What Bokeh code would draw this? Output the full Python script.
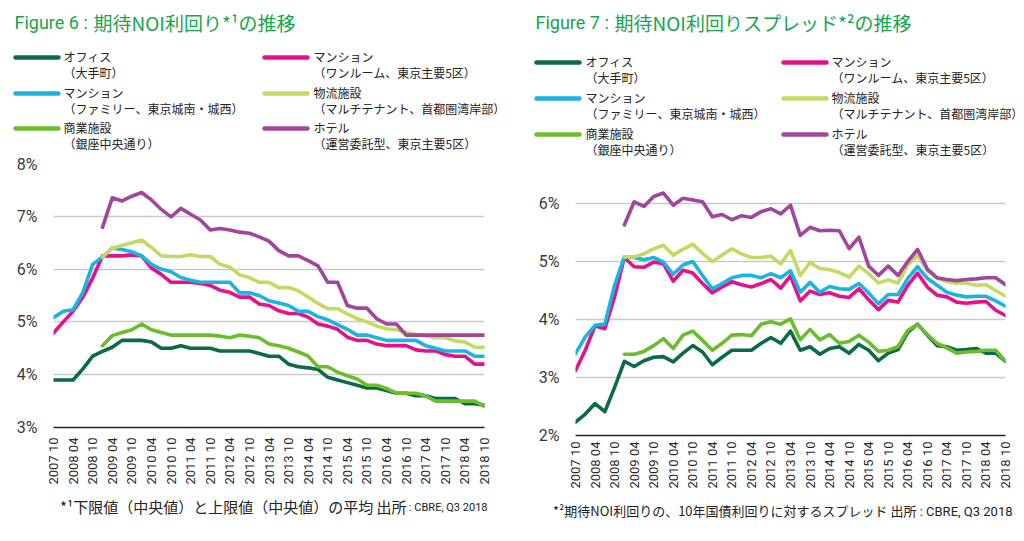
import math
import numpy as np
from bokeh.plotting import figure
from bokeh.models import FixedTicker, Range1d, PrintfTickFormatter
from bokeh.core.properties import value
from bokeh.layouts import row, column
from bokeh.embed import file_html
from bokeh.resources import INLINE

nan = float("nan")

# ---------------- data ----------------
tick_labels = ["2007 10", "2008 04", "2008 10", "2009 04", "2009 10", "2010 04", "2010 10",
               "2011 04", "2011 10", "2012 04", "2012 10", "2013 04", "2013 10", "2014 04",
               "2014 10", "2015 04", "2015 10", "2016 04", "2016 10", "2017 04", "2017 10",
               "2018 04", "2018 10"]
n_quarters = 45  # quarterly survey points, 2007 10 .. 2018 10

series_names = ["オフィス\n（大手町）", "マンション\n（ワンルーム、東京主要5区）",
                "マンション\n（ファミリー、東京城南・城西）", "物流施設\n（マルチテナント、首都圏湾岸部）",
                "商業施設\n（銀座中央通り）", "ホテル\n（運営委託型、東京主要5区）"]

# Figure 6: expected NOI yield (%)
office_yield = [3.90, 3.90, 3.90, 4.11, 4.35, 4.44, 4.52, 4.65, 4.65, 4.65, 4.62, 4.50, 4.50, 4.55, 4.50,
                4.50, 4.50, 4.45, 4.45, 4.45, 4.45, 4.40, 4.35, 4.35, 4.20, 4.15, 4.13, 4.10, 3.95, 3.90,
                3.85, 3.80, 3.75, 3.75, 3.70, 3.65, 3.65, 3.60, 3.60, 3.55, 3.55, 3.55, 3.45, 3.45, 3.42]
oneroom_yield = [4.79, 5.00, 5.20, 5.47, 5.83, 6.25, 6.25, 6.25, 6.27, 6.25, 6.02, 5.90, 5.75, 5.75, 5.75,
                 5.73, 5.69, 5.60, 5.56, 5.47, 5.47, 5.34, 5.31, 5.21, 5.16, 5.16, 5.09, 4.96, 4.92, 4.86,
                 4.71, 4.65, 4.65, 4.58, 4.55, 4.55, 4.55, 4.47, 4.45, 4.45, 4.38, 4.35, 4.35, 4.20, 4.20]
family_yield = [5.08, 5.20, 5.23, 5.56, 6.09, 6.23, 6.40, 6.37, 6.33, 6.25, 6.09, 6.00, 5.95, 5.84, 5.79,
                5.75, 5.75, 5.75, 5.75, 5.55, 5.55, 5.50, 5.40, 5.36, 5.31, 5.20, 5.20, 5.10, 5.04, 4.95,
                4.86, 4.75, 4.75, 4.70, 4.65, 4.65, 4.65, 4.65, 4.55, 4.50, 4.45, 4.45, 4.45, 4.35, 4.35]
logistics_yield = [nan, nan, nan, nan, nan, 6.23, 6.39, 6.45, 6.50, 6.55, 6.41, 6.25, 6.24, 6.24, 6.27,
                   6.24, 6.24, 6.09, 6.04, 5.89, 5.84, 5.75, 5.75, 5.65, 5.65, 5.59, 5.47, 5.35, 5.25, 5.25,
                   5.15, 5.06, 5.00, 4.92, 4.87, 4.85, 4.80, 4.76, 4.74, 4.70, 4.70, 4.64, 4.62, 4.52, 4.52]
retail_yield = [nan, nan, nan, nan, nan, 4.55, 4.74, 4.80, 4.85, 4.96, 4.85, 4.80, 4.75, 4.75, 4.75,
                4.75, 4.75, 4.73, 4.70, 4.75, 4.73, 4.70, 4.58, 4.55, 4.50, 4.43, 4.35, 4.15, 4.15, 4.05,
                3.98, 3.92, 3.80, 3.80, 3.74, 3.65, 3.65, 3.65, 3.60, 3.50, 3.50, 3.50, 3.50, 3.50, 3.40]
hotel_yield = [nan, nan, nan, nan, nan, 6.79, 7.35, 7.29, 7.38, 7.45, 7.31, 7.13, 6.99, 7.15, 7.04,
               6.93, 6.74, 6.77, 6.74, 6.70, 6.68, 6.61, 6.53, 6.35, 6.25, 6.25, 6.16, 6.06, 5.75, 5.75,
               5.31, 5.26, 5.26, 5.06, 4.96, 4.96, 4.75, 4.75, 4.75, 4.75, 4.75, 4.75, 4.75, 4.75, 4.75]

# Figure 7: spread over 10y JGB (%)
office_spread = [2.23, 2.37, 2.55, 2.41, 2.83, 3.28, 3.19, 3.29, 3.35, 3.36, 3.27, 3.42, 3.55, 3.44, 3.22,
                 3.35, 3.47, 3.47, 3.47, 3.59, 3.69, 3.59, 3.80, 3.47, 3.53, 3.40, 3.50, 3.53, 3.42, 3.57,
                 3.47, 3.29, 3.42, 3.48, 3.78, 3.92, 3.73, 3.55, 3.53, 3.47, 3.48, 3.50, 3.42, 3.42, 3.28]
oneroom_spread = [3.12, 3.47, 3.89, 3.84, 4.39, 5.07, 4.91, 4.90, 4.99, 4.96, 4.66, 4.85, 4.80, 4.62, 4.46,
                  4.56, 4.65, 4.60, 4.56, 4.62, 4.69, 4.54, 4.75, 4.32, 4.49, 4.43, 4.46, 4.40, 4.38, 4.53,
                  4.34, 4.17, 4.33, 4.30, 4.59, 4.80, 4.56, 4.42, 4.39, 4.30, 4.28, 4.30, 4.31, 4.16, 4.07]
family_spread = [3.41, 3.70, 3.90, 3.92, 4.59, 5.08, 5.07, 5.03, 5.07, 4.99, 4.78, 4.94, 5.00, 4.76, 4.53,
                 4.62, 4.72, 4.76, 4.76, 4.72, 4.79, 4.72, 4.84, 4.47, 4.64, 4.47, 4.57, 4.53, 4.52, 4.62,
                 4.46, 4.27, 4.43, 4.43, 4.71, 4.91, 4.71, 4.59, 4.47, 4.42, 4.39, 4.40, 4.40, 4.32, 4.23]
logistics_spread = [nan, nan, nan, nan, nan, 5.08, 5.08, 5.13, 5.22, 5.28, 5.11, 5.21, 5.30, 5.14, 5.00,
                    5.11, 5.22, 5.13, 5.07, 5.07, 5.09, 4.96, 5.19, 4.76, 4.98, 4.88, 4.86, 4.81, 4.73, 4.92,
                    4.79, 4.63, 4.68, 4.63, 4.94, 5.11, 4.84, 4.71, 4.65, 4.63, 4.63, 4.59, 4.60, 4.50, 4.40]
retail_spread = [nan, nan, nan, nan, nan, 3.40, 3.40, 3.45, 3.55, 3.67, 3.50, 3.73, 3.80, 3.64, 3.47,
                 3.59, 3.73, 3.74, 3.72, 3.92, 3.96, 3.92, 4.01, 3.65, 3.83, 3.65, 3.74, 3.59, 3.62, 3.73,
                 3.61, 3.45, 3.47, 3.53, 3.81, 3.92, 3.74, 3.59, 3.51, 3.42, 3.44, 3.45, 3.47, 3.47, 3.28]
hotel_spread = [nan, nan, nan, nan, nan, 5.63, 6.03, 5.95, 6.12, 6.18, 5.97, 6.09, 6.06, 6.03, 5.77,
                5.81, 5.72, 5.79, 5.76, 5.86, 5.91, 5.82, 5.97, 5.45, 5.59, 5.53, 5.54, 5.53, 5.22, 5.42,
                4.92, 4.76, 4.92, 4.76, 5.00, 5.21, 4.87, 4.72, 4.69, 4.67, 4.69, 4.70, 4.72, 4.72, 4.60]

# ---------------- style ----------------
C_OFFICE = "#0b6b45"
C_ONEROOM = "#e8108a"
C_FAMILY = "#1ab4e3"
C_LOGI = "#c3da62"
C_RETAIL = "#6cbd2e"
C_HOTEL = "#a0479d"
TITLE_C = "#17a54d"
TXT = "#3a3a3a"
CJK = "Noto Sans CJK JP"
LAT = "Roboto"
W = 512

legend_colors = [C_OFFICE, C_ONEROOM, C_FAMILY, C_LOGI, C_RETAIL, C_HOTEL]
legend_order = [0, 2, 4, 1, 3, 5]  # column-wise order of legend entries

x = np.arange(n_quarters)


def blank(h):
    p = figure(width=W, height=h, output_backend="svg", toolbar_location=None,
               x_range=Range1d(0, W), y_range=Range1d(h, 0), x_axis_type=None, y_axis_type=None,
               min_border=0, border_fill_color="white", background_fill_color="white",
               frame_align=False)
    p.outline_line_color = None
    p.grid.visible = False
    return p


def header(h, title_num, title_jp, rows, cols):
    p = blank(h)
    p.text(x=[title_num[0]], y=[title_num[1]], text=[title_num[2]], text_font=value(LAT),
           text_font_size="18px", text_color=TITLE_C, text_baseline="middle")
    p.text(x=[title_jp[0]], y=[title_jp[1]], text=[title_jp[2]], text_font=value(CJK),
           text_font_size="19px", text_color=TITLE_C, text_baseline="middle")
    k = 0
    for cx0, cx1, tx in cols:
        for ry in rows:
            idx = legend_order[k]
            p.segment(x0=[cx0], y0=[ry], x1=[cx1], y1=[ry], line_color=legend_colors[idx],
                      line_width=4.4, line_cap="round")
            l1, l2 = series_names[idx].split("\n")
            p.text(x=[tx, tx], y=[ry - 1, ry + 15], text=[l1, l2], text_font=value(CJK),
                   text_font_size="12px", text_color="#222222", text_baseline="middle")
            k += 1
    return p


def footer(h, y, jp, jp_size, lat_size, right_end, lat_width):
    p = blank(h)
    p.text(x=[right_end], y=[y + 1], text=[": CBRE, Q3 2018"], text_font=value(LAT),
           text_font_size=f"{lat_size}px", text_color="#222222", text_baseline="middle",
           text_align="right")
    p.text(x=[right_end - lat_width], y=[y], text=[jp], text_font=value(CJK),
           text_font_size=f"{jp_size}px", text_color="#222222", text_baseline="middle",
           text_align="right")
    return p


def chart(h, fl, fr, top, bottom, y0, y1, yticks, series, standoff):
    p = figure(width=W, height=h, output_backend="svg", toolbar_location=None,
               x_range=Range1d(0, n_quarters - 1), y_range=Range1d(y0, y1),
               min_border_left=fl, min_border_right=W - fr, min_border_top=top,
               min_border_bottom=bottom, background_fill_color="white", border_fill_color="white",
               frame_align=False)
    p.outline_line_color = None
    p.xgrid.grid_line_color = None
    p.ygrid.grid_line_color = "#c9c9c9"
    p.ygrid.grid_line_width = 1.6
    p.ygrid.ticker = FixedTicker(ticks=yticks)

    ya = p.yaxis[0]
    ya.ticker = FixedTicker(ticks=yticks)
    ya.formatter = PrintfTickFormatter(format="%d%%")
    ya.axis_line_color = None
    ya.major_tick_line_color = None
    ya.minor_tick_line_color = None
    ya.major_tick_out = 0
    ya.major_label_text_font = LAT
    ya.major_label_text_font_size = "16px"
    ya.major_label_text_color = TXT
    ya.major_label_standoff = 16

    xa = p.xaxis[0]
    xa.ticker = FixedTicker(ticks=list(range(0, n_quarters, 2)))
    xa.major_label_overrides = {2 * i: lab for i, lab in enumerate(tick_labels)}
    xa.major_label_orientation = math.pi / 2
    xa.axis_line_color = "#222222"
    xa.axis_line_width = 1.6
    xa.major_tick_line_color = None
    xa.minor_tick_line_color = None
    xa.major_tick_out = 0
    xa.major_label_text_font = LAT
    xa.major_label_text_font_size = "13px"
    xa.major_label_text_color = "#2a2a2a"
    xa.major_label_standoff = standoff

    for vals, col in series:
        p.line(x, vals, line_color=col, line_width=3.6, line_join="round", line_cap="round")
    return p


# ---- left panel (Figure 6) ----
h1 = header(154, (14, 22, "Figure 6 :"), (93, 22, "期待NOI利回り*¹の推移"),
            [57, 93, 128], [(15, 58, 63), (264, 307, 313)])
c1 = chart(336, 53, 484, 9, 63, 3, 8, [3, 4, 5, 6, 7, 8],
           [(office_yield, C_OFFICE), (retail_yield, C_RETAIL), (oneroom_yield, C_ONEROOM),
            (family_yield, C_FAMILY), (logistics_yield, C_LOGI), (hotel_yield, C_HOTEL)], 10)
f1 = footer(51, 16, "*¹下限値（中央値）と上限値（中央値）の平均 出所", 15, 11, 487, 81)

# ---- right panel (Figure 7) ----
h2 = header(160, (23, 22, "Figure 7 :"), (102, 22, "期待NOI利回りスプレッド*²の推移"),
            [62, 98, 134], [(24, 67, 73), (271, 314, 319)])
c2 = chart(335, 63, 493, 14, 60, 2, 6.5, [2, 3, 4, 5, 6],
           [(office_spread, C_OFFICE), (retail_spread, C_RETAIL), (oneroom_spread, C_ONEROOM),
            (family_spread, C_FAMILY), (logistics_spread, C_LOGI), (hotel_spread, C_HOTEL)], 6)
f2 = footer(46, 15, "*²期待NOI利回りの、10年国債利回りに対するスプレッド 出所", 13, 13, 500, 96)

layout = row(column(h1, c1, f1, spacing=0), column(h2, c2, f2, spacing=0), spacing=0)
open("out.html", "w").write(file_html(layout, INLINE))
